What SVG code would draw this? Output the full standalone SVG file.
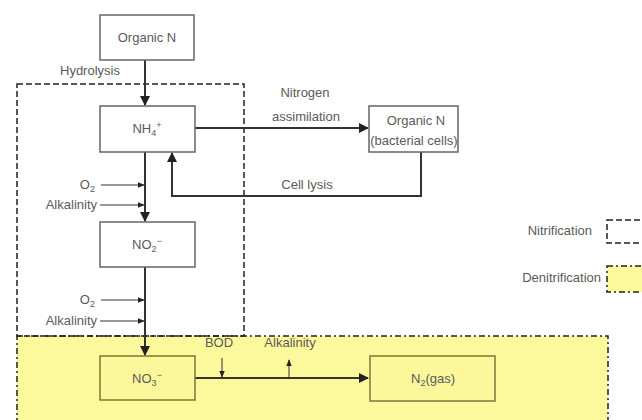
<svg xmlns="http://www.w3.org/2000/svg" width="642" height="420" viewBox="0 0 642 420">
<defs>
<style>
text{font-family:"Liberation Sans",Arial,sans-serif;font-size:13px;fill:#5a5a5a}
.sub{font-size:9px}
.box{fill:#fff;stroke:#666;stroke-width:1.5}
.ybox{fill:#fbf79a;stroke:#7d7636;stroke-width:1.5}
.ln{fill:none;stroke:#333;stroke-width:2}
.thin{fill:none;stroke:#333;stroke-width:1}
.dash{fill:none;stroke:#222;stroke-width:1.5;stroke-dasharray:6,3}
.ddash{fill:#fcf99c;stroke:#222;stroke-width:1.5;stroke-dasharray:6,3,2,3}
</style>
<marker id="ah" viewBox="0 0 10 10" refX="9" refY="5" markerWidth="5" markerHeight="5" orient="auto"><path d="M0,0L10,5L0,10z" fill="#222"/></marker>
<marker id="ahs" viewBox="0 0 10 10" refX="9" refY="5" markerWidth="7" markerHeight="7" orient="auto"><path d="M0,1L10,5L0,9z" fill="#222"/></marker>
</defs>
<g id="regions">
<rect id="denitrification-region" x="17" y="336" width="591" height="90" class="ddash"/>
<rect id="nitrification-region" x="17" y="84" width="227" height="252" class="dash"/>
</g>
<g id="connectors">
<line x1="145" y1="60" x2="145" y2="105" class="ln" marker-end="url(#ah)"/>
<line x1="145" y1="152" x2="145" y2="221" class="ln" marker-end="url(#ah)"/>
<line x1="145" y1="267" x2="145" y2="355" class="ln" marker-end="url(#ah)"/>
<line x1="195" y1="128" x2="368" y2="128" class="ln" marker-end="url(#ah)"/>
<polyline points="421,152 421,196 172,196 172,153" class="ln" marker-end="url(#ah)"/>
<line x1="101" y1="185" x2="144" y2="185" class="thin" marker-end="url(#ahs)"/>
<line x1="100" y1="205" x2="144" y2="205" class="thin" marker-end="url(#ahs)"/>
<line x1="101" y1="300" x2="144" y2="300" class="thin" marker-end="url(#ahs)"/>
<line x1="100" y1="321" x2="144" y2="321" class="thin" marker-end="url(#ahs)"/>
<line x1="195" y1="378" x2="368" y2="378" class="ln" stroke="#4d4a20" marker-end="url(#ah)"/>
<line x1="222" y1="358" x2="222" y2="377" class="thin" marker-end="url(#ahs)"/>
<line x1="289" y1="378" x2="289" y2="360" class="thin" marker-end="url(#ahs)"/>
</g>
<g id="organic-n"><rect x="100" y="15" width="94" height="45" class="box"/><text x="147" y="42" text-anchor="middle">Organic N</text></g>
<g id="nh4"><rect x="100" y="106" width="95" height="46" class="box"/><text x="147" y="133" text-anchor="middle">NH<tspan class="sub" dy="3">4</tspan><tspan class="sub" dy="-8">+</tspan></text></g>
<g id="no2"><rect x="100" y="222" width="95" height="45" class="box"/><text x="147" y="249" text-anchor="middle">NO<tspan class="sub" dy="3">2</tspan><tspan class="sub" dy="-8">−</tspan></text></g>
<g id="no3"><rect x="100" y="356" width="95" height="44" class="ybox"/><text x="147" y="383" text-anchor="middle">NO<tspan class="sub" dy="3">3</tspan><tspan class="sub" dy="-8">−</tspan></text></g>
<g id="organic-n-bacterial"><rect x="369" y="106" width="89" height="46" class="box"/><text x="416" y="125" text-anchor="middle">Organic N</text><text x="414" y="145" text-anchor="middle" font-size="11.5">(bacterial cells)</text></g>
<g id="n2gas"><rect x="370" y="356" width="125" height="45" class="ybox"/><text x="433" y="383" text-anchor="middle">N<tspan class="sub" dy="3">2</tspan><tspan dy="-3">(gas)</tspan></text></g>
<g id="labels">
<text x="60" y="75">Hydrolysis</text>
<text x="305" y="97" text-anchor="middle">Nitrogen</text>
<text x="306" y="121" text-anchor="middle">assimilation</text>
<text x="307" y="189" text-anchor="middle">Cell lysis</text>
<text x="95" y="189" text-anchor="end">O<tspan class="sub" dy="3">2</tspan></text>
<text x="97" y="209" text-anchor="end">Alkalinity</text>
<text x="95" y="304" text-anchor="end">O<tspan class="sub" dy="3">2</tspan></text>
<text x="97" y="325" text-anchor="end">Alkalinity</text>
<text x="219" y="347" text-anchor="middle">BOD</text>
<text x="290" y="347" text-anchor="middle">Alkalinity</text>
</g>
<g id="legend">
<text x="592" y="235" text-anchor="end">Nitrification</text>
<rect x="607" y="220" width="45" height="23" class="dash"/>
<text x="601" y="282" text-anchor="end">Denitrification</text>
<rect x="607" y="266" width="45" height="26" class="ddash"/>
</g>
</svg>
